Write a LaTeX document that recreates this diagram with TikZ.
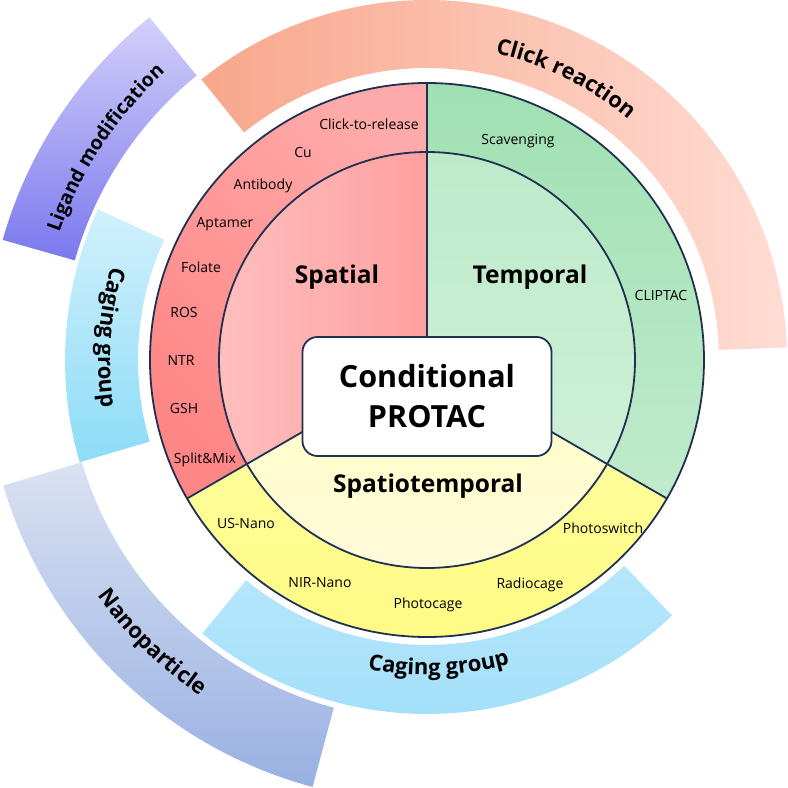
\documentclass[tikz,border=0pt]{standalone}
\usepackage{fontspec}
\setmainfont{Open Sans}
\usepackage{tikz}
\usetikzlibrary{decorations.text}
\usepackage{xcolor}
\definecolor{rimnavy}{RGB}{31,48,80}
\definecolor{clickL}{RGB}{248,167,140}
\definecolor{clickR}{RGB}{255,220,211}
\definecolor{ligandT}{RGB}{212,208,250}
\definecolor{ligandB}{RGB}{122,120,238}
\definecolor{cageT}{RGB}{210,240,252}
\definecolor{cageB}{RGB}{140,220,248}
\definecolor{nanoT}{RGB}{218,226,242}
\definecolor{nanoB}{RGB}{152,176,226}
\definecolor{cagebotT}{RGB}{182,231,251}
\definecolor{cagebotB}{RGB}{160,222,250}
\definecolor{spatA}{RGB}{255,134,134}
\definecolor{spatB}{RGB}{255,170,170}
\definecolor{spatinA}{RGB}{255,190,190}
\definecolor{spatinB}{RGB}{255,160,160}
\definecolor{tempA}{RGB}{160,224,178}
\definecolor{tempB}{RGB}{192,235,204}
\definecolor{tempinA}{RGB}{190,234,202}
\definecolor{tempinB}{RGB}{206,240,215}
\definecolor{stA}{RGB}{255,255,165}
\definecolor{stB}{RGB}{255,250,128}
\definecolor{stinA}{RGB}{255,252,196}
\definecolor{stinB}{RGB}{255,251,220}
\newcommand{\bandfont}{\bfseries\fontsize{22}{26}\selectfont}
\newcommand{\bandfontsm}{\bfseries\fontsize{19.5}{24}\selectfont}

\begin{document}
\begin{tikzpicture}[x=1pt,y=1pt,
    ring/.style={draw=rimnavy,line width=1.8pt},
    item/.style={font=\fontsize{14}{16}\selectfont,anchor=base,inner sep=0pt},
    sectorlbl/.style={font=\bfseries\fontsize{24.5}{28}\selectfont,anchor=base,inner sep=0pt},
    corebox/.style={draw=rimnavy,line width=1.8pt,fill=white,rounded corners=15pt,
      minimum width=249pt,minimum height=119pt,align=center,inner sep=0pt,
      font=\bfseries\fontsize{30.5}{40}\selectfont},
    bandtext/.style={decorate,decoration={text along path,text align=center,text={|\bandfont|#1}}}]
  \def\Ro{277}
  \def\Ri{208}
  \useasboundingbox (-427,-428) rectangle (361,360);

  % outer bands
  \shade[left color=clickL,right color=clickR] (128.8:360) arc[start angle=128.8,end angle=2,radius=360] -- (2:292) arc[start angle=2,end angle=128.8,radius=292] -- cycle;
  \shade[top color=ligandT,bottom color=ligandB] (129:441) arc[start angle=129,end angle=164.2,radius=441] -- (164.2:366) arc[start angle=164.2,end angle=129,radius=366] -- cycle;
  \shade[top color=cageT,bottom color=cageB] (155.4:362) arc[start angle=155.4,end angle=196.4,radius=362] -- (196.4:289) arc[start angle=196.4,end angle=155.4,radius=289] -- cycle;
  \shade[top color=nanoT,bottom color=nanoB] (196.5:442) arc[start angle=196.5,end angle=255,radius=442] -- (255:360) arc[start angle=255,end angle=196.5,radius=360] -- cycle;
  \shade[top color=cagebotT,bottom color=cagebotB] (230.6:354) arc[start angle=230.6,end angle=313.8,radius=354] -- (313.8:285) arc[start angle=313.8,end angle=230.6,radius=285] -- cycle;

  % band labels
  \path[bandtext={Click reaction}] (125.5:314) arc[start angle=125.5,end angle=2,radius=314];
  \path[decorate,decoration={text along path,text align=center,text={|\bandfontsm|Ligand modification}}] (164.2:389) arc[start angle=164.2,end angle=129,radius=389];
  \path[bandtext={Caging group}] (155.4:329) arc[start angle=155.4,end angle=196.4,radius=329];
  \path[bandtext={Nanoparticle}] (196.5:405) arc[start angle=196.5,end angle=255,radius=405];
  \path[bandtext={Caging group}] (230.6:315) arc[start angle=230.6,end angle=313.8,radius=315];

  % sectors
  \shade[left color=spatA,right color=spatB,shading angle=135] (0,0) -- (90:\Ro) arc[start angle=90,end angle=210,radius=\Ro] -- cycle;
  \shade[left color=spatinA,right color=spatinB] (0,0) -- (90:\Ri) arc[start angle=90,end angle=210,radius=\Ri] -- cycle;
  \shade[top color=tempA,bottom color=tempB] (0,0) -- (-30:\Ro) arc[start angle=-30,end angle=90,radius=\Ro] -- cycle;
  \shade[top color=tempinA,bottom color=tempinB] (0,0) -- (-30:\Ri) arc[start angle=-30,end angle=90,radius=\Ri] -- cycle;
  \shade[top color=stA,bottom color=stB] (0,0) -- (210:\Ro) arc[start angle=210,end angle=330,radius=\Ro] -- cycle;
  \shade[top color=stinA,bottom color=stinB] (0,0) -- (210:\Ri) arc[start angle=210,end angle=330,radius=\Ri] -- cycle;
  \draw[ring] (0,0) circle[radius=\Ro];
  \draw[ring] (0,0) circle[radius=\Ri];
  \foreach \a in {90,210,330}
    \draw[ring] (0,0) -- (\a:\Ro);

  \node[corebox] (core) at (0,-36.5) {Conditional\\PROTAC};

  \node[sectorlbl] (spatial) at (-90,77) {Spatial};
  \node[sectorlbl] (temporal) at (103,77) {Temporal};
  \node[sectorlbl] (spatiotemporal) at (1,-132) {Spatiotemporal};

  % spatial items
  \node[item] (ctr) at (-58,230.5) {Click-to-release};
  \node[item] (cu) at (-124,202.5) {Cu};
  \node[item] (antibody) at (-164,170.5) {Antibody};
  \node[item] (aptamer) at (-202,132.5) {Aptamer};
  \node[item] (folate) at (-226,87.5) {Folate};
  \node[item] (ros) at (-243,42.5) {ROS};
  \node[item] (ntr) at (-246,-5.5) {NTR};
  \node[item] (gsh) at (-243,-53.5) {GSH};
  \node[item] (splitmix) at (-222,-103.5) {Split\&Mix};
  % temporal items
  \node[item] (scav) at (91,215.5) {Scavenging};
  \node[item] (cliptac) at (234,59.5) {CLIPTAC};
  % spatiotemporal items
  \node[item] (usnano) at (-181,-168.5) {US-Nano};
  \node[item] (nirnano) at (-107,-227.5) {NIR-Nano};
  \node[item] (photocage) at (1,-248.5) {Photocage};
  \node[item] (radiocage) at (103,-228.5) {Radiocage};
  \node[item] (photoswitch) at (176,-173.5) {Photoswitch};
\end{tikzpicture}
\end{document}
